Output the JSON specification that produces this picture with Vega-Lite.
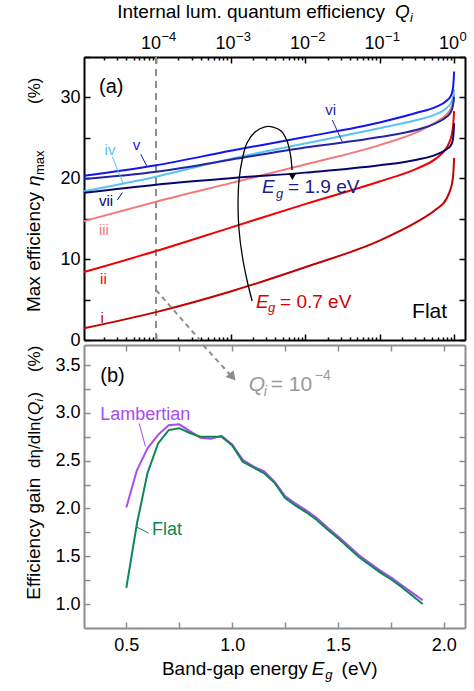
{
  "$schema": "https://vega.github.io/schema/vega-lite/v6.json",
  "background": "white",
  "padding": {"left": 24, "top": 2, "right": 2, "bottom": 2},
  "bounds": "flush",
  "spacing": 5,
  "resolve": {"scale": {"color": "independent"}},
  "config": {
    "font": "Liberation Sans",
    "view": {"stroke": null},
    "axis": {"labelFont": "Liberation Sans", "labelFontSize": 18, "labelColor": "#000", "grid": false, "labelOverlap": false, "labelFlush": false}
  },
  "datasets": {
    "curves": [
      {"c": "i", "q": 1.08e-5, "e": 1.45}, {"c": "i", "q": 1e-4, "e": 3.45}, {"c": "i", "q": 1e-3, "e": 6.0}, {"c": "i", "q": 0.01, "e": 9.0}, {"c": "i", "q": 0.1, "e": 12.3}, {"c": "i", "q": 0.3162, "e": 14.6}, {"c": "i", "q": 0.5623, "e": 16.1}, {"c": "i", "q": 0.7943, "e": 17.5}, {"c": "i", "q": 0.8913, "e": 18.6}, {"c": "i", "q": 0.955, "e": 19.8}, {"c": "i", "q": 0.9772, "e": 20.7}, {"c": "i", "q": 1, "e": 22.5},
      {"c": "ii", "q": 1.08e-5, "e": 8.4}, {"c": "ii", "q": 1e-4, "e": 11.0}, {"c": "ii", "q": 1e-3, "e": 13.9}, {"c": "ii", "q": 0.01, "e": 16.8}, {"c": "ii", "q": 0.1, "e": 19.6}, {"c": "ii", "q": 0.3162, "e": 21.2}, {"c": "ii", "q": 0.5623, "e": 22.4}, {"c": "ii", "q": 0.7943, "e": 23.8}, {"c": "ii", "q": 0.8913, "e": 24.8}, {"c": "ii", "q": 0.955, "e": 26.0}, {"c": "ii", "q": 0.9772, "e": 26.9}, {"c": "ii", "q": 1, "e": 28.3},
      {"c": "iii", "q": 1.08e-5, "e": 14.7}, {"c": "iii", "q": 1e-4, "e": 17.1}, {"c": "iii", "q": 1e-3, "e": 19.4}, {"c": "iii", "q": 0.01, "e": 21.7}, {"c": "iii", "q": 0.1, "e": 24.1}, {"c": "iii", "q": 0.3162, "e": 25.7}, {"c": "iii", "q": 0.5623, "e": 26.9}, {"c": "iii", "q": 0.7943, "e": 27.9}, {"c": "iii", "q": 0.8913, "e": 28.5}, {"c": "iii", "q": 0.955, "e": 29.2}, {"c": "iii", "q": 0.9772, "e": 29.7}, {"c": "iii", "q": 1, "e": 30.4},
      {"c": "iv", "q": 1.08e-5, "e": 18.4}, {"c": "iv", "q": 1e-4, "e": 20.2}, {"c": "iv", "q": 1e-3, "e": 22.4}, {"c": "iv", "q": 0.01, "e": 24.3}, {"c": "iv", "q": 0.1, "e": 26.2}, {"c": "iv", "q": 0.3162, "e": 27.2}, {"c": "iv", "q": 0.5623, "e": 27.9}, {"c": "iv", "q": 0.7943, "e": 28.7}, {"c": "iv", "q": 0.8913, "e": 29.2}, {"c": "iv", "q": 0.955, "e": 29.8}, {"c": "iv", "q": 0.9772, "e": 30.3}, {"c": "iv", "q": 1, "e": 31.0},
      {"c": "v", "q": 1.08e-5, "e": 20.3}, {"c": "v", "q": 1e-4, "e": 21.6}, {"c": "v", "q": 1e-3, "e": 23.4}, {"c": "v", "q": 0.01, "e": 25.1}, {"c": "v", "q": 0.1, "e": 26.9}, {"c": "v", "q": 0.3162, "e": 28.1}, {"c": "v", "q": 0.5623, "e": 28.8}, {"c": "v", "q": 0.7943, "e": 29.6}, {"c": "v", "q": 0.8913, "e": 30.1}, {"c": "v", "q": 0.955, "e": 30.9}, {"c": "v", "q": 0.9772, "e": 31.6}, {"c": "v", "q": 1, "e": 33.2},
      {"c": "vi", "q": 1.08e-5, "e": 19.9}, {"c": "vi", "q": 1e-4, "e": 20.8}, {"c": "vi", "q": 1e-3, "e": 22.3}, {"c": "vi", "q": 0.01, "e": 23.8}, {"c": "vi", "q": 0.1, "e": 25.1}, {"c": "vi", "q": 0.3162, "e": 26.0}, {"c": "vi", "q": 0.5623, "e": 26.8}, {"c": "vi", "q": 0.7943, "e": 27.6}, {"c": "vi", "q": 0.8913, "e": 28.1}, {"c": "vi", "q": 0.955, "e": 28.8}, {"c": "vi", "q": 0.9772, "e": 29.3}, {"c": "vi", "q": 1, "e": 30.1},
      {"c": "vii", "q": 1.08e-5, "e": 18.2}, {"c": "vii", "q": 1e-4, "e": 19.2}, {"c": "vii", "q": 1e-3, "e": 20.0}, {"c": "vii", "q": 0.01, "e": 20.7}, {"c": "vii", "q": 0.1, "e": 21.6}, {"c": "vii", "q": 0.3162, "e": 22.3}, {"c": "vii", "q": 0.5623, "e": 22.9}, {"c": "vii", "q": 0.7943, "e": 23.6}, {"c": "vii", "q": 0.8913, "e": 24.0}, {"c": "vii", "q": 0.955, "e": 24.6}, {"c": "vii", "q": 0.9772, "e": 25.3}, {"c": "vii", "q": 1, "e": 26.8}
    ],
    "gain": [
      {"s": "Lambertian", "eg": 0.5, "g": 2.01}, {"s": "Lambertian", "eg": 0.55, "g": 2.4}, {"s": "Lambertian", "eg": 0.6, "g": 2.63}, {"s": "Lambertian", "eg": 0.65, "g": 2.77}, {"s": "Lambertian", "eg": 0.7, "g": 2.87}, {"s": "Lambertian", "eg": 0.75, "g": 2.88}, {"s": "Lambertian", "eg": 0.8, "g": 2.81}, {"s": "Lambertian", "eg": 0.85, "g": 2.74}, {"s": "Lambertian", "eg": 0.9, "g": 2.73}, {"s": "Lambertian", "eg": 0.95, "g": 2.76}, {"s": "Lambertian", "eg": 1.0, "g": 2.67}, {"s": "Lambertian", "eg": 1.05, "g": 2.51}, {"s": "Lambertian", "eg": 1.1, "g": 2.44}, {"s": "Lambertian", "eg": 1.15, "g": 2.39}, {"s": "Lambertian", "eg": 1.2, "g": 2.28}, {"s": "Lambertian", "eg": 1.25, "g": 2.13}, {"s": "Lambertian", "eg": 1.3, "g": 2.05}, {"s": "Lambertian", "eg": 1.35, "g": 1.98}, {"s": "Lambertian", "eg": 1.4, "g": 1.9}, {"s": "Lambertian", "eg": 1.45, "g": 1.8}, {"s": "Lambertian", "eg": 1.5, "g": 1.71}, {"s": "Lambertian", "eg": 1.55, "g": 1.61}, {"s": "Lambertian", "eg": 1.6, "g": 1.51}, {"s": "Lambertian", "eg": 1.65, "g": 1.43}, {"s": "Lambertian", "eg": 1.7, "g": 1.35}, {"s": "Lambertian", "eg": 1.75, "g": 1.28}, {"s": "Lambertian", "eg": 1.8, "g": 1.2}, {"s": "Lambertian", "eg": 1.85, "g": 1.12}, {"s": "Lambertian", "eg": 1.9, "g": 1.04},
      {"s": "Flat", "eg": 0.5, "g": 1.17}, {"s": "Flat", "eg": 0.55, "g": 1.84}, {"s": "Flat", "eg": 0.6, "g": 2.37}, {"s": "Flat", "eg": 0.65, "g": 2.68}, {"s": "Flat", "eg": 0.7, "g": 2.82}, {"s": "Flat", "eg": 0.75, "g": 2.84}, {"s": "Flat", "eg": 0.8, "g": 2.79}, {"s": "Flat", "eg": 0.85, "g": 2.75}, {"s": "Flat", "eg": 0.9, "g": 2.75}, {"s": "Flat", "eg": 0.95, "g": 2.75}, {"s": "Flat", "eg": 1.0, "g": 2.66}, {"s": "Flat", "eg": 1.05, "g": 2.49}, {"s": "Flat", "eg": 1.1, "g": 2.43}, {"s": "Flat", "eg": 1.15, "g": 2.37}, {"s": "Flat", "eg": 1.2, "g": 2.27}, {"s": "Flat", "eg": 1.25, "g": 2.11}, {"s": "Flat", "eg": 1.3, "g": 2.03}, {"s": "Flat", "eg": 1.35, "g": 1.96}, {"s": "Flat", "eg": 1.4, "g": 1.88}, {"s": "Flat", "eg": 1.45, "g": 1.78}, {"s": "Flat", "eg": 1.5, "g": 1.69}, {"s": "Flat", "eg": 1.55, "g": 1.59}, {"s": "Flat", "eg": 1.6, "g": 1.49}, {"s": "Flat", "eg": 1.65, "g": 1.41}, {"s": "Flat", "eg": 1.7, "g": 1.33}, {"s": "Flat", "eg": 1.75, "g": 1.26}, {"s": "Flat", "eg": 1.8, "g": 1.18}, {"s": "Flat", "eg": 1.85, "g": 1.09}, {"s": "Flat", "eg": 1.9, "g": 1.0}
    ]
  },
  "vconcat": [
    {
      "width": 381,
      "height": 283,
      "resolve": {"axis": {"x": "independent", "y": "independent"}},
      "layer": [
        {
          "data": {"values": [{"q": 0.0001}]},
          "mark": {"type": "rule", "color": "#8c8c8c", "strokeWidth": 2, "strokeDash": [7, 5]},
          "encoding": {
            "x": {"field": "q", "type": "quantitative", "scale": {"type": "log", "domain": [1.08e-5, 1.4], "nice": false}, "axis": null}
          }
        },
        {
          "data": {"name": "curves"},
          "mark": {"type": "line", "strokeWidth": 2, "interpolate": "monotone"},
          "encoding": {
            "x": {"field": "q", "type": "quantitative", "scale": {"type": "log", "domain": [1.08e-5, 1.4], "nice": false},
              "axis": {"orient": "top", "values": [2e-5, 3e-5, 4e-5, 5e-5, 6e-5, 7e-5, 8e-5, 9e-5, 1e-4, 2e-4, 3e-4, 4e-4, 5e-4, 6e-4, 7e-4, 8e-4, 9e-4, 0.001, 0.002, 0.003, 0.004, 0.005, 0.006, 0.007, 0.008, 0.009, 0.01, 0.02, 0.03, 0.04, 0.05, 0.06, 0.07, 0.08, 0.09, 0.1, 0.2, 0.3, 0.4, 0.5, 0.6, 0.7, 0.8, 0.9, 1], "labels": false, "title": null, "grid": false, "domainColor": "#000", "domainWidth": 2, "tickColor": "#000", "tickWidth": 1.5, "tickSize": {"condition": {"test": "abs(log(datum.value)/LN10 - round(log(datum.value)/LN10)) < 0.001", "value": -6}, "value": -3}}},
            "y": {"field": "e", "type": "quantitative", "scale": {"domain": [0, 35], "nice": false, "zero": false},
              "axis": {"orient": "left", "values": [0, 5, 10, 15, 20, 25, 30, 35], "labelExpr": "datum.value % 10 == 0 ? datum.label : ''", "title": null, "grid": false, "domainColor": "#000", "domainWidth": 2, "tickColor": "#000", "tickWidth": 1.5, "tickSize": -6, "labelPadding": 10}},
            "color": {"field": "c", "type": "nominal", "scale": {"domain": ["i", "ii", "iii", "iv", "v", "vi", "vii", "hi", "lo"], "range": ["#c40000", "#f00000", "#f47a7a", "#5bc2f5", "#1414f0", "#2424a8", "#07076b", "#1c1c8e", "#d60000"]}, "legend": null}
          }
        },
        {
          "data": {"values": [{"q": 1e-4, "e": 6.18, "q2": 3.88e-4, "e2": 0}]},
          "mark": {"type": "rule", "color": "#8c8c8c", "strokeWidth": 2, "strokeDash": [5, 4]},
          "encoding": {
            "x": {"field": "q", "type": "quantitative", "scale": {"type": "log", "domain": [1.08e-5, 1.4], "nice": false},
              "axis": {"orient": "bottom", "values": [2e-5, 3e-5, 4e-5, 5e-5, 6e-5, 7e-5, 8e-5, 9e-5, 1e-4, 2e-4, 3e-4, 4e-4, 5e-4, 6e-4, 7e-4, 8e-4, 9e-4, 0.001, 0.002, 0.003, 0.004, 0.005, 0.006, 0.007, 0.008, 0.009, 0.01, 0.02, 0.03, 0.04, 0.05, 0.06, 0.07, 0.08, 0.09, 0.1, 0.2, 0.3, 0.4, 0.5, 0.6, 0.7, 0.8, 0.9, 1], "labels": false, "title": null, "grid": false, "domainColor": "#000", "domainWidth": 2, "tickColor": "#000", "tickWidth": 1.5, "tickSize": {"condition": {"test": "abs(log(datum.value)/LN10 - round(log(datum.value)/LN10)) < 0.001", "value": -6}, "value": -3}}},
            "y": {"field": "e", "type": "quantitative", "scale": {"domain": [0, 35], "nice": false, "zero": false},
              "axis": {"orient": "right", "values": [0, 5, 10, 15, 20, 25, 30, 35], "labels": false, "title": null, "grid": false, "domainColor": "#000", "domainWidth": 2, "tickColor": "#000", "tickWidth": 1.5, "tickSize": -6}},
            "x2": {"field": "q2"},
            "y2": {"field": "e2"}
          }
        },
        {
          "data": {"values": [
            {"k": 0, "q": 1.95e-3, "e": 4.82}, {"k": 1, "q": 1.66e-3, "e": 7.42}, {"k": 2, "q": 1.43e-3, "e": 10.51}, {"k": 3, "q": 1.3e-3, "e": 13.6}, {"k": 4, "q": 1.26e-3, "e": 16.7}, {"k": 5, "q": 1.3e-3, "e": 19.79}, {"k": 6, "q": 1.43e-3, "e": 22.26}, {"k": 7, "q": 1.66e-3, "e": 24.36}, {"k": 8, "q": 2.13e-3, "e": 25.72}, {"k": 9, "q": 2.82e-3, "e": 26.34}, {"k": 10, "q": 3.72e-3, "e": 26.34}, {"k": 11, "q": 4.77e-3, "e": 25.85}, {"k": 12, "q": 5.73e-3, "e": 24.61}, {"k": 13, "q": 6.38e-3, "e": 22.88}, {"k": 14, "q": 6.69e-3, "e": 21.02}
          ]},
          "mark": {"type": "line", "color": "#000", "strokeWidth": 1.3, "interpolate": "catmull-rom"},
          "encoding": {
            "x": {"field": "q", "type": "quantitative", "scale": {"type": "log", "domain": [1.08e-5, 1.4], "nice": false}, "axis": null},
            "y": {"field": "e", "type": "quantitative", "scale": {"domain": [0, 35], "nice": false, "zero": false}, "axis": null},
            "order": {"field": "k", "type": "quantitative"}
          }
        },
        {
          "data": {"values": [{"q": 6.75e-3, "e": 20.2}]},
          "mark": {"type": "point", "shape": "triangle-down", "filled": true, "color": "#000", "size": 60, "opacity": 1},
          "encoding": {
            "x": {"field": "q", "type": "quantitative", "scale": {"type": "log", "domain": [1.08e-5, 1.4], "nice": false}, "axis": null},
            "y": {"field": "e", "type": "quantitative", "scale": {"domain": [0, 35], "nice": false, "zero": false}, "axis": null}
          }
        },
        {
          "data": {"values": [
            {"c": "iv", "q": 2.59e-5, "e": 22.67, "q2": 3.64e-5, "e2": 19.29},
            {"c": "v", "q": 6.24e-5, "e": 22.97, "q2": 7.5e-5, "e2": 21.52},
            {"c": "vii", "q": 3.03e-5, "e": 17.31, "q2": 3.53e-5, "e2": 18.22},
            {"c": "vi", "q": 0.0232, "e": 27.2, "q2": 0.0316, "e2": 24.52}
          ]},
          "mark": {"type": "rule", "strokeWidth": 1},
          "encoding": {
            "x": {"field": "q", "type": "quantitative", "scale": {"type": "log", "domain": [1.08e-5, 1.4], "nice": false}, "axis": null},
            "y": {"field": "e", "type": "quantitative", "scale": {"domain": [0, 35], "nice": false, "zero": false}, "axis": null},
            "x2": {"field": "q2"},
            "y2": {"field": "e2"},
            "color": {"field": "c", "type": "nominal", "scale": {"domain": ["i", "ii", "iii", "iv", "v", "vi", "vii", "hi", "lo"], "range": ["#c40000", "#f00000", "#f47a7a", "#5bc2f5", "#1414f0", "#2424a8", "#07076b", "#1c1c8e", "#d60000"]}, "legend": null}
          }
        },
        {
          "data": {"values": [
            {"c": "i", "q": 1.9e-5, "e": 2.1}, {"c": "ii", "q": 1.97e-5, "e": 6.93}, {"c": "iii", "q": 2.0e-5, "e": 12.99}, {"c": "iv", "q": 2.41e-5, "e": 22.88}, {"c": "v", "q": 5.47e-5, "e": 23.5}, {"c": "vi", "q": 0.0221, "e": 27.83}, {"c": "vii", "q": 2.13e-5, "e": 16.57}
          ]},
          "mark": {"type": "text", "fontSize": 15, "align": "center", "baseline": "alphabetic"},
          "encoding": {
            "x": {"field": "q", "type": "quantitative", "scale": {"type": "log", "domain": [1.08e-5, 1.4], "nice": false}, "axis": null},
            "y": {"field": "e", "type": "quantitative", "scale": {"domain": [0, 35], "nice": false, "zero": false}, "axis": null},
            "text": {"field": "c"},
            "color": {"field": "c", "type": "nominal", "scale": {"domain": ["i", "ii", "iii", "iv", "v", "vi", "vii", "hi", "lo"], "range": ["#c40000", "#f00000", "#f47a7a", "#5bc2f5", "#1414f0", "#2424a8", "#07076b", "#1c1c8e", "#d60000"]}, "legend": null}
          }
        },
        {
          "data": {"values": [{"c": "hi", "t": "E", "q": 2.65e-3, "e": 18.12}, {"c": "lo", "t": "E", "q": 2.2e-3, "e": 3.96}]},
          "mark": {"type": "text", "fontSize": 19, "fontStyle": "italic", "align": "left", "baseline": "alphabetic"},
          "encoding": {
            "x": {"field": "q", "type": "quantitative", "scale": {"type": "log", "domain": [1.08e-5, 1.4], "nice": false}, "axis": null},
            "y": {"field": "e", "type": "quantitative", "scale": {"domain": [0, 35], "nice": false, "zero": false}, "axis": null},
            "text": {"field": "t"},
            "color": {"field": "c", "type": "nominal", "scale": {"domain": ["i", "ii", "iii", "iv", "v", "vi", "vii", "hi", "lo"], "range": ["#c40000", "#f00000", "#f47a7a", "#5bc2f5", "#1414f0", "#2424a8", "#07076b", "#1c1c8e", "#d60000"]}, "legend": null}
          }
        },
        {
          "data": {"values": [{"c": "hi", "t": "g", "q": 4.08e-3, "e": 17.62}, {"c": "lo", "t": "g", "q": 3.18e-3, "e": 3.46}]},
          "mark": {"type": "text", "fontSize": 13, "fontStyle": "italic", "align": "left", "baseline": "alphabetic"},
          "encoding": {
            "x": {"field": "q", "type": "quantitative", "scale": {"type": "log", "domain": [1.08e-5, 1.4], "nice": false}, "axis": null},
            "y": {"field": "e", "type": "quantitative", "scale": {"domain": [0, 35], "nice": false, "zero": false}, "axis": null},
            "text": {"field": "t"},
            "color": {"field": "c", "type": "nominal", "scale": {"domain": ["i", "ii", "iii", "iv", "v", "vi", "vii", "hi", "lo"], "range": ["#c40000", "#f00000", "#f47a7a", "#5bc2f5", "#1414f0", "#2424a8", "#07076b", "#1c1c8e", "#d60000"]}, "legend": null}
          }
        },
        {
          "data": {"values": [{"c": "hi", "t": "= 1.9 eV", "q": 5.92e-3, "e": 18.12}, {"c": "lo", "t": "= 0.7 eV", "q": 4.61e-3, "e": 3.96}]},
          "mark": {"type": "text", "fontSize": 19, "align": "left", "baseline": "alphabetic"},
          "encoding": {
            "x": {"field": "q", "type": "quantitative", "scale": {"type": "log", "domain": [1.08e-5, 1.4], "nice": false}, "axis": null},
            "y": {"field": "e", "type": "quantitative", "scale": {"domain": [0, 35], "nice": false, "zero": false}, "axis": null},
            "text": {"field": "t"},
            "color": {"field": "c", "type": "nominal", "scale": {"domain": ["i", "ii", "iii", "iv", "v", "vi", "vii", "hi", "lo"], "range": ["#c40000", "#f00000", "#f47a7a", "#5bc2f5", "#1414f0", "#2424a8", "#07076b", "#1c1c8e", "#d60000"]}, "legend": null}
          }
        },
        {
          "data": {"values": [{"t": "(a)", "q": 1.72e-5, "e": 30.55}]},
          "mark": {"type": "text", "fontSize": 20, "align": "left", "baseline": "alphabetic", "color": "#000"},
          "encoding": {
            "x": {"field": "q", "type": "quantitative", "scale": {"type": "log", "domain": [1.08e-5, 1.4], "nice": false}, "axis": null},
            "y": {"field": "e", "type": "quantitative", "scale": {"domain": [0, 35], "nice": false, "zero": false}, "axis": null},
            "text": {"field": "t"}
          }
        },
        {
          "data": {"values": [{"t": "Flat", "q": 0.273, "e": 2.72}]},
          "mark": {"type": "text", "fontSize": 21, "align": "left", "baseline": "alphabetic", "color": "#000"},
          "encoding": {
            "x": {"field": "q", "type": "quantitative", "scale": {"type": "log", "domain": [1.08e-5, 1.4], "nice": false}, "axis": null},
            "y": {"field": "e", "type": "quantitative", "scale": {"domain": [0, 35], "nice": false, "zero": false}, "axis": null},
            "text": {"field": "t"}
          }
        },
        {
          "data": {"values": [{"q": 1e-4, "t": "10"}, {"q": 1e-3, "t": "10"}, {"q": 0.01, "t": "10"}, {"q": 0.1, "t": "10"}, {"q": 1, "t": "10"}]},
          "mark": {"type": "text", "fontSize": 18, "align": "right", "baseline": "alphabetic", "dx": 5, "color": "#000"},
          "encoding": {
            "x": {"field": "q", "type": "quantitative", "scale": {"type": "log", "domain": [1.08e-5, 1.4], "nice": false}, "axis": null},
            "y": {"datum": 35.93, "type": "quantitative", "scale": {"domain": [0, 35], "nice": false, "zero": false}, "axis": null},
            "text": {"field": "t"}
          }
        },
        {
          "data": {"values": [{"q": 1e-4, "t": "−4"}, {"q": 1e-3, "t": "−3"}, {"q": 0.01, "t": "−2"}, {"q": 0.1, "t": "−1"}, {"q": 1, "t": "0"}]},
          "mark": {"type": "text", "fontSize": 13, "align": "left", "baseline": "alphabetic", "dx": 5.5, "color": "#000"},
          "encoding": {
            "x": {"field": "q", "type": "quantitative", "scale": {"type": "log", "domain": [1.08e-5, 1.4], "nice": false}, "axis": null},
            "y": {"datum": 36.92, "type": "quantitative", "scale": {"domain": [0, 35], "nice": false, "zero": false}, "axis": null},
            "text": {"field": "t"}
          }
        },
        {
          "data": {"values": [{"t": "Internal lum. quantum efficiency", "q": 0.1186, "e": 39.88}]},
          "mark": {"type": "text", "fontSize": 19, "align": "right", "baseline": "alphabetic", "color": "#000"},
          "encoding": {
            "x": {"field": "q", "type": "quantitative", "scale": {"type": "log", "domain": [1.08e-5, 1.4], "nice": false}, "axis": null},
            "y": {"field": "e", "type": "quantitative", "scale": {"domain": [0, 35], "nice": false, "zero": false}, "axis": null},
            "text": {"field": "t"}
          }
        },
        {
          "data": {"values": [{"t": "Q", "q": 0.161, "e": 39.88}]},
          "mark": {"type": "text", "fontSize": 19, "fontStyle": "italic", "align": "left", "baseline": "alphabetic", "color": "#000"},
          "encoding": {
            "x": {"field": "q", "type": "quantitative", "scale": {"type": "log", "domain": [1.08e-5, 1.4], "nice": false}, "axis": null},
            "y": {"field": "e", "type": "quantitative", "scale": {"domain": [0, 35], "nice": false, "zero": false}, "axis": null},
            "text": {"field": "t"}
          }
        },
        {
          "data": {"values": [{"t": "i", "q": 0.2565, "e": 39.39}]},
          "mark": {"type": "text", "fontSize": 13, "fontStyle": "italic", "align": "left", "baseline": "alphabetic", "color": "#000"},
          "encoding": {
            "x": {"field": "q", "type": "quantitative", "scale": {"type": "log", "domain": [1.08e-5, 1.4], "nice": false}, "axis": null},
            "y": {"field": "e", "type": "quantitative", "scale": {"domain": [0, 35], "nice": false, "zero": false}, "axis": null},
            "text": {"field": "t"}
          }
        },
        {
          "data": {"values": [{"t": "Max efficiency", "q": 2.773e-6, "e": 3.46}]},
          "mark": {"type": "text", "fontSize": 19, "angle": 270, "align": "left", "baseline": "alphabetic", "color": "#000"},
          "encoding": {
            "x": {"field": "q", "type": "quantitative", "scale": {"type": "log", "domain": [1.08e-5, 1.4], "nice": false}, "axis": null},
            "y": {"field": "e", "type": "quantitative", "scale": {"domain": [0, 35], "nice": false, "zero": false}, "axis": null},
            "text": {"field": "t"}
          }
        },
        {
          "data": {"values": [{"t": "η", "q": 2.773e-6, "e": 19.05}]},
          "mark": {"type": "text", "fontSize": 19, "fontStyle": "italic", "angle": 270, "align": "left", "baseline": "alphabetic", "color": "#000"},
          "encoding": {
            "x": {"field": "q", "type": "quantitative", "scale": {"type": "log", "domain": [1.08e-5, 1.4], "nice": false}, "axis": null},
            "y": {"field": "e", "type": "quantitative", "scale": {"domain": [0, 35], "nice": false, "zero": false}, "axis": null},
            "text": {"field": "t"}
          }
        },
        {
          "data": {"values": [{"t": "max", "q": 3.14e-6, "e": 20.4}]},
          "mark": {"type": "text", "fontSize": 13, "angle": 270, "align": "left", "baseline": "alphabetic", "color": "#000"},
          "encoding": {
            "x": {"field": "q", "type": "quantitative", "scale": {"type": "log", "domain": [1.08e-5, 1.4], "nice": false}, "axis": null},
            "y": {"field": "e", "type": "quantitative", "scale": {"domain": [0, 35], "nice": false, "zero": false}, "axis": null},
            "text": {"field": "t"}
          }
        },
        {
          "data": {"values": [{"t": "(%)", "q": 2.773e-6, "e": 29.19}]},
          "mark": {"type": "text", "fontSize": 17, "angle": 270, "align": "left", "baseline": "alphabetic", "color": "#000"},
          "encoding": {
            "x": {"field": "q", "type": "quantitative", "scale": {"type": "log", "domain": [1.08e-5, 1.4], "nice": false}, "axis": null},
            "y": {"field": "e", "type": "quantitative", "scale": {"domain": [0, 35], "nice": false, "zero": false}, "axis": null},
            "text": {"field": "t"}
          }
        }
      ]
    },
    {
      "width": 381,
      "height": 283,
      "resolve": {"axis": {"x": "independent", "y": "independent"}},
      "layer": [
        {
          "data": {"name": "gain"},
          "mark": {"type": "line", "strokeWidth": 2},
          "encoding": {
            "x": {"field": "eg", "type": "quantitative", "scale": {"domain": [0.3, 2.1], "nice": false, "zero": false},
              "axis": {"orient": "bottom", "values": [0.5, 0.75, 1, 1.25, 1.5, 1.75, 2], "labelExpr": "datum.value*2 == round(datum.value*2) ? format(datum.value, '.1f') : ''", "title": null, "grid": false, "domainColor": "#8c8c8c", "domainWidth": 2, "tickColor": "#8c8c8c", "tickWidth": 1.5, "tickSize": -6, "labelPadding": 14}},
            "y": {"field": "g", "type": "quantitative", "scale": {"domain": [0.75, 3.71], "nice": false, "zero": false},
              "axis": {"orient": "left", "values": [1, 1.25, 1.5, 1.75, 2, 2.25, 2.5, 2.75, 3, 3.25, 3.5], "labelExpr": "datum.value*2 == round(datum.value*2) ? format(datum.value, '.1f') : ''", "title": null, "grid": false, "domainColor": "#8c8c8c", "domainWidth": 2, "tickColor": "#8c8c8c", "tickWidth": 1.5, "tickSize": -6, "labelPadding": 10}},
            "color": {"field": "s", "type": "nominal", "scale": {"domain": ["Lambertian", "Flat"], "range": ["#a64cf2", "#0d8754"]}, "legend": null}
          }
        },
        {
          "data": {"values": [{"eg": 0.863, "g": 3.709, "eg2": 0.99, "g2": 3.4}]},
          "mark": {"type": "rule", "color": "#8c8c8c", "strokeWidth": 2, "strokeDash": [5, 4]},
          "encoding": {
            "x": {"field": "eg", "type": "quantitative", "scale": {"domain": [0.3, 2.1], "nice": false, "zero": false},
              "axis": {"orient": "top", "values": [0.5, 0.75, 1, 1.25, 1.5, 1.75, 2], "labels": false, "title": null, "grid": false, "domainColor": "#8c8c8c", "domainWidth": 2, "tickColor": "#8c8c8c", "tickWidth": 1.5, "tickSize": -6}},
            "y": {"field": "g", "type": "quantitative", "scale": {"domain": [0.75, 3.71], "nice": false, "zero": false},
              "axis": {"orient": "right", "values": [1, 1.25, 1.5, 1.75, 2, 2.25, 2.5, 2.75, 3, 3.25, 3.5], "labels": false, "title": null, "grid": false, "domainColor": "#8c8c8c", "domainWidth": 2, "tickColor": "#8c8c8c", "tickWidth": 1.5, "tickSize": -6}},
            "x2": {"field": "eg2"},
            "y2": {"field": "g2"}
          }
        },
        {
          "data": {"values": [{"eg": 1.002, "g": 3.375}]},
          "mark": {"type": "point", "shape": "triangle-down", "filled": true, "color": "#8c8c8c", "size": 110, "angle": 319, "opacity": 1},
          "encoding": {
            "x": {"field": "eg", "type": "quantitative", "scale": {"domain": [0.3, 2.1], "nice": false, "zero": false}, "axis": null},
            "y": {"field": "g", "type": "quantitative", "scale": {"domain": [0.75, 3.71], "nice": false, "zero": false}, "axis": null}
          }
        },
        {
          "data": {"values": [
            {"s": "Lambertian", "eg": 0.561, "g": 2.89, "eg2": 0.59, "g2": 2.65},
            {"s": "Flat", "eg": 0.545, "g": 1.811, "eg2": 0.605, "g2": 1.742}
          ]},
          "mark": {"type": "rule", "strokeWidth": 1},
          "encoding": {
            "x": {"field": "eg", "type": "quantitative", "scale": {"domain": [0.3, 2.1], "nice": false, "zero": false}, "axis": null},
            "y": {"field": "g", "type": "quantitative", "scale": {"domain": [0.75, 3.71], "nice": false, "zero": false}, "axis": null},
            "x2": {"field": "eg2"},
            "y2": {"field": "g2"},
            "color": {"field": "s", "type": "nominal", "scale": {"domain": ["Lambertian", "Flat"], "range": ["#a64cf2", "#0d8754"]}, "legend": null}
          }
        },
        {
          "data": {"values": [{"s": "Lambertian", "eg": 0.377, "g": 2.93}, {"s": "Flat", "eg": 0.621, "g": 1.724}]},
          "mark": {"type": "text", "fontSize": 18, "align": "left", "baseline": "alphabetic"},
          "encoding": {
            "x": {"field": "eg", "type": "quantitative", "scale": {"domain": [0.3, 2.1], "nice": false, "zero": false}, "axis": null},
            "y": {"field": "g", "type": "quantitative", "scale": {"domain": [0.75, 3.71], "nice": false, "zero": false}, "axis": null},
            "text": {"field": "s"},
            "color": {"field": "s", "type": "nominal", "scale": {"domain": ["Lambertian", "Flat"], "range": ["#a64cf2", "#0d8754"]}, "legend": null}
          }
        },
        {
          "data": {"values": [{"t": "(b)", "eg": 0.377, "g": 3.326}]},
          "mark": {"type": "text", "fontSize": 20, "align": "left", "baseline": "alphabetic", "color": "#000"},
          "encoding": {
            "x": {"field": "eg", "type": "quantitative", "scale": {"domain": [0.3, 2.1], "nice": false, "zero": false}, "axis": null},
            "y": {"field": "g", "type": "quantitative", "scale": {"domain": [0.75, 3.71], "nice": false, "zero": false}, "axis": null},
            "text": {"field": "t"}
          }
        },
        {
          "data": {"values": [{"t": "Q", "eg": 1.078, "g": 3.229}]},
          "mark": {"type": "text", "fontSize": 21, "fontStyle": "italic", "align": "left", "baseline": "alphabetic", "color": "#9a9a9a"},
          "encoding": {
            "x": {"field": "eg", "type": "quantitative", "scale": {"domain": [0.3, 2.1], "nice": false, "zero": false}, "axis": null},
            "y": {"field": "g", "type": "quantitative", "scale": {"domain": [0.75, 3.71], "nice": false, "zero": false}, "axis": null},
            "text": {"field": "t"}
          }
        },
        {
          "data": {"values": [{"t": "i", "eg": 1.149, "g": 3.177}]},
          "mark": {"type": "text", "fontSize": 14, "fontStyle": "italic", "align": "left", "baseline": "alphabetic", "color": "#9a9a9a"},
          "encoding": {
            "x": {"field": "eg", "type": "quantitative", "scale": {"domain": [0.3, 2.1], "nice": false, "zero": false}, "axis": null},
            "y": {"field": "g", "type": "quantitative", "scale": {"domain": [0.75, 3.71], "nice": false, "zero": false}, "axis": null},
            "text": {"field": "t"}
          }
        },
        {
          "data": {"values": [{"t": "= 10", "eg": 1.182, "g": 3.229}]},
          "mark": {"type": "text", "fontSize": 21, "align": "left", "baseline": "alphabetic", "color": "#9a9a9a"},
          "encoding": {
            "x": {"field": "eg", "type": "quantitative", "scale": {"domain": [0.3, 2.1], "nice": false, "zero": false}, "axis": null},
            "y": {"field": "g", "type": "quantitative", "scale": {"domain": [0.75, 3.71], "nice": false, "zero": false}, "axis": null},
            "text": {"field": "t"}
          }
        },
        {
          "data": {"values": [{"t": "−4", "eg": 1.39, "g": 3.344}]},
          "mark": {"type": "text", "fontSize": 14, "align": "left", "baseline": "alphabetic", "color": "#9a9a9a"},
          "encoding": {
            "x": {"field": "eg", "type": "quantitative", "scale": {"domain": [0.3, 2.1], "nice": false, "zero": false}, "axis": null},
            "y": {"field": "g", "type": "quantitative", "scale": {"domain": [0.75, 3.71], "nice": false, "zero": false}, "axis": null},
            "text": {"field": "t"}
          }
        },
        {
          "data": {"values": [{"t": "Band-gap energy", "eg": 1.357, "g": 0.261}]},
          "mark": {"type": "text", "fontSize": 19, "align": "right", "baseline": "alphabetic", "color": "#000"},
          "encoding": {
            "x": {"field": "eg", "type": "quantitative", "scale": {"domain": [0.3, 2.1], "nice": false, "zero": false}, "axis": null},
            "y": {"field": "g", "type": "quantitative", "scale": {"domain": [0.75, 3.71], "nice": false, "zero": false}, "axis": null},
            "text": {"field": "t"}
          }
        },
        {
          "data": {"values": [{"t": "E", "eg": 1.376, "g": 0.261}]},
          "mark": {"type": "text", "fontSize": 19, "fontStyle": "italic", "align": "left", "baseline": "alphabetic", "color": "#000"},
          "encoding": {
            "x": {"field": "eg", "type": "quantitative", "scale": {"domain": [0.3, 2.1], "nice": false, "zero": false}, "axis": null},
            "y": {"field": "g", "type": "quantitative", "scale": {"domain": [0.75, 3.71], "nice": false, "zero": false}, "axis": null},
            "text": {"field": "t"}
          }
        },
        {
          "data": {"values": [{"t": "g", "eg": 1.4395, "g": 0.2195}]},
          "mark": {"type": "text", "fontSize": 13, "fontStyle": "italic", "align": "left", "baseline": "alphabetic", "color": "#000"},
          "encoding": {
            "x": {"field": "eg", "type": "quantitative", "scale": {"domain": [0.3, 2.1], "nice": false, "zero": false}, "axis": null},
            "y": {"field": "g", "type": "quantitative", "scale": {"domain": [0.75, 3.71], "nice": false, "zero": false}, "axis": null},
            "text": {"field": "t"}
          }
        },
        {
          "data": {"values": [{"t": "(eV)", "eg": 1.517, "g": 0.261}]},
          "mark": {"type": "text", "fontSize": 19, "align": "left", "baseline": "alphabetic", "color": "#000"},
          "encoding": {
            "x": {"field": "eg", "type": "quantitative", "scale": {"domain": [0.3, 2.1], "nice": false, "zero": false}, "axis": null},
            "y": {"field": "g", "type": "quantitative", "scale": {"domain": [0.75, 3.71], "nice": false, "zero": false}, "axis": null},
            "text": {"field": "t"}
          }
        },
        {
          "data": {"values": [{"t": "Efficiency gain", "eg": 0.0903, "g": 1.045}]},
          "mark": {"type": "text", "fontSize": 19, "angle": 270, "align": "left", "baseline": "alphabetic", "color": "#000"},
          "encoding": {
            "x": {"field": "eg", "type": "quantitative", "scale": {"domain": [0.3, 2.1], "nice": false, "zero": false}, "axis": null},
            "y": {"field": "g", "type": "quantitative", "scale": {"domain": [0.75, 3.71], "nice": false, "zero": false}, "axis": null},
            "text": {"field": "t"}
          }
        },
        {
          "data": {"values": [{"t": "dη/dln(", "eg": 0.0903, "g": 2.424}, {"t": ")", "eg": 0.0903, "g": 3.16}]},
          "mark": {"type": "text", "fontSize": 17, "angle": 270, "align": "left", "baseline": "alphabetic", "color": "#000"},
          "encoding": {
            "x": {"field": "eg", "type": "quantitative", "scale": {"domain": [0.3, 2.1], "nice": false, "zero": false}, "axis": null},
            "y": {"field": "g", "type": "quantitative", "scale": {"domain": [0.75, 3.71], "nice": false, "zero": false}, "axis": null},
            "text": {"field": "t"}
          }
        },
        {
          "data": {"values": [{"t": "Q", "eg": 0.0903, "g": 2.978}]},
          "mark": {"type": "text", "fontSize": 17, "fontStyle": "italic", "angle": 270, "align": "left", "baseline": "alphabetic", "color": "#000"},
          "encoding": {
            "x": {"field": "eg", "type": "quantitative", "scale": {"domain": [0.3, 2.1], "nice": false, "zero": false}, "axis": null},
            "y": {"field": "g", "type": "quantitative", "scale": {"domain": [0.75, 3.71], "nice": false, "zero": false}, "axis": null},
            "text": {"field": "t"}
          }
        },
        {
          "data": {"values": [{"t": "i", "eg": 0.1044, "g": 3.12}]},
          "mark": {"type": "text", "fontSize": 11, "fontStyle": "italic", "angle": 270, "align": "left", "baseline": "alphabetic", "color": "#000"},
          "encoding": {
            "x": {"field": "eg", "type": "quantitative", "scale": {"domain": [0.3, 2.1], "nice": false, "zero": false}, "axis": null},
            "y": {"field": "g", "type": "quantitative", "scale": {"domain": [0.75, 3.71], "nice": false, "zero": false}, "axis": null},
            "text": {"field": "t"}
          }
        },
        {
          "data": {"values": [{"t": "(%)", "eg": 0.0903, "g": 3.427}]},
          "mark": {"type": "text", "fontSize": 17, "angle": 270, "align": "left", "baseline": "alphabetic", "color": "#000"},
          "encoding": {
            "x": {"field": "eg", "type": "quantitative", "scale": {"domain": [0.3, 2.1], "nice": false, "zero": false}, "axis": null},
            "y": {"field": "g", "type": "quantitative", "scale": {"domain": [0.75, 3.71], "nice": false, "zero": false}, "axis": null},
            "text": {"field": "t"}
          }
        }
      ]
    }
  ]
}
